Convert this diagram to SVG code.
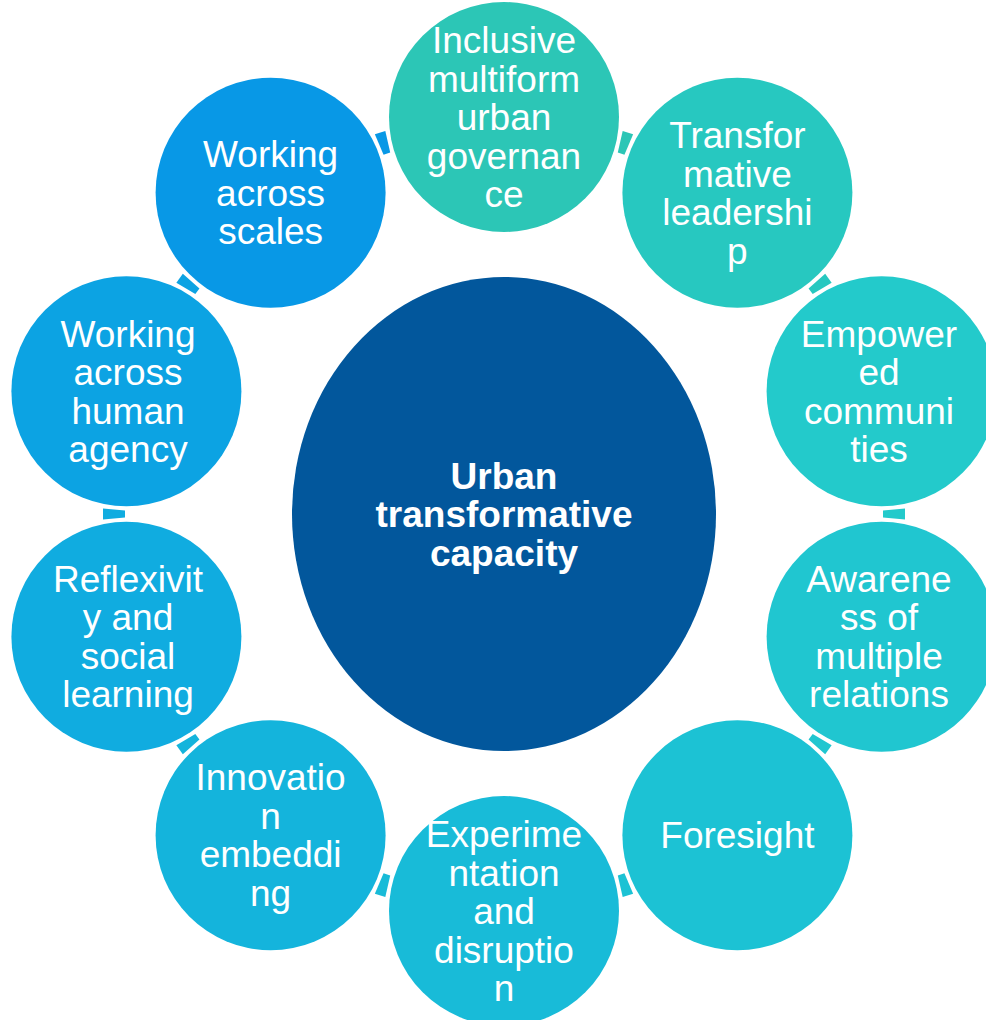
<svg xmlns="http://www.w3.org/2000/svg" width="986" height="1020" viewBox="0 0 986 1020">
  <style>
    .lbl { font-family: "Liberation Sans", Arial, sans-serif; font-size: 37px; fill: #ffffff; text-anchor: middle; }
    .hub { font-weight: bold; }
  </style>
  <defs>
    <!-- small wedge sitting in the gap between two neighbouring circles, drawn at the top and rotated into place -->
    <polygon id="gap" points="500.5,135 498.5,113 509.5,113 507.5,135"/>
  </defs>
  <rect width="986" height="1020" fill="#ffffff"/>

  <g id="connectors">
    <use href="#gap" fill="#2CC6B6" transform="rotate(18 504 514)"/>
    <use href="#gap" fill="#27C8C0" transform="rotate(54 504 514)"/>
    <use href="#gap" fill="#23CACB" transform="rotate(90 504 514)"/>
    <use href="#gap" fill="#20C6D0" transform="rotate(126 504 514)"/>
    <use href="#gap" fill="#1CC2D4" transform="rotate(162 504 514)"/>
    <use href="#gap" fill="#18BBD8" transform="rotate(198 504 514)"/>
    <use href="#gap" fill="#14B4DC" transform="rotate(234 504 514)"/>
    <use href="#gap" fill="#10ACE0" transform="rotate(270 504 514)"/>
    <use href="#gap" fill="#0CA3E3" transform="rotate(306 504 514)"/>
    <use href="#gap" fill="#0898E6" transform="rotate(342 504 514)"/>
  </g>

  <g id="hub">
    <ellipse cx="504" cy="514" rx="212" ry="237" fill="#02579C"/>
    <text class="lbl hub" x="504" y="488.5">Urban</text>
    <text class="lbl hub" x="504" y="527">transformative</text>
    <text class="lbl hub" x="504" y="565.5">capacity</text>
  </g>

  <g id="node-governance">
    <circle cx="504" cy="117" r="115" fill="#2CC6B6"/>
    <text class="lbl" x="504" y="53">Inclusive</text>
    <text class="lbl" x="504" y="91.5">multiform</text>
    <text class="lbl" x="504" y="130">urban</text>
    <text class="lbl" x="504" y="168.5">governan</text>
    <text class="lbl" x="504" y="207">ce</text>
  </g>

  <g id="node-leadership">
    <circle cx="737.4" cy="192.8" r="115" fill="#27C8C0"/>
    <text class="lbl" x="737.4" y="148.05">Transfor</text>
    <text class="lbl" x="737.4" y="186.55">mative</text>
    <text class="lbl" x="737.4" y="225.05">leadershi</text>
    <text class="lbl" x="737.4" y="263.55">p</text>
  </g>

  <g id="node-communities">
    <circle cx="881.6" cy="391.3" r="115" fill="#23CACB"/>
    <text class="lbl" x="879" y="346.55">Empower</text>
    <text class="lbl" x="879" y="385.05">ed</text>
    <text class="lbl" x="879" y="423.55">communi</text>
    <text class="lbl" x="879" y="462.05">ties</text>
  </g>

  <g id="node-relations">
    <circle cx="881.6" cy="636.7" r="115" fill="#20C6D0"/>
    <text class="lbl" x="879" y="591.95">Awarene</text>
    <text class="lbl" x="879" y="630.45">ss of</text>
    <text class="lbl" x="879" y="668.95">multiple</text>
    <text class="lbl" x="879" y="707.45">relations</text>
  </g>

  <g id="node-foresight">
    <circle cx="737.4" cy="835.2" r="115" fill="#1CC2D4"/>
    <text class="lbl" x="737.4" y="848.2">Foresight</text>
  </g>

  <g id="node-experimentation">
    <circle cx="504" cy="911" r="115" fill="#18BBD8"/>
    <text class="lbl" x="504" y="847">Experime</text>
    <text class="lbl" x="504" y="885.5">ntation</text>
    <text class="lbl" x="504" y="924">and</text>
    <text class="lbl" x="504" y="962.5">disruptio</text>
    <text class="lbl" x="504" y="1001">n</text>
  </g>

  <g id="node-innovation">
    <circle cx="270.6" cy="835.2" r="115" fill="#14B4DC"/>
    <text class="lbl" x="270.6" y="790.45">Innovatio</text>
    <text class="lbl" x="270.6" y="828.95">n</text>
    <text class="lbl" x="270.6" y="867.45">embeddi</text>
    <text class="lbl" x="270.6" y="905.95">ng</text>
  </g>

  <g id="node-reflexivity">
    <circle cx="126.4" cy="636.7" r="115" fill="#10ACE0"/>
    <text class="lbl" x="128" y="591.95">Reflexivit</text>
    <text class="lbl" x="128" y="630.45">y and</text>
    <text class="lbl" x="128" y="668.95">social</text>
    <text class="lbl" x="128" y="707.45">learning</text>
  </g>

  <g id="node-agency">
    <circle cx="126.4" cy="391.3" r="115" fill="#0CA3E3"/>
    <text class="lbl" x="128" y="346.55">Working</text>
    <text class="lbl" x="128" y="385.05">across</text>
    <text class="lbl" x="128" y="423.55">human</text>
    <text class="lbl" x="128" y="462.05">agency</text>
  </g>

  <g id="node-scales">
    <circle cx="270.6" cy="192.8" r="115" fill="#0898E6"/>
    <text class="lbl" x="270.6" y="167.3">Working</text>
    <text class="lbl" x="270.6" y="205.8">across</text>
    <text class="lbl" x="270.6" y="244.3">scales</text>
  </g>
</svg>
